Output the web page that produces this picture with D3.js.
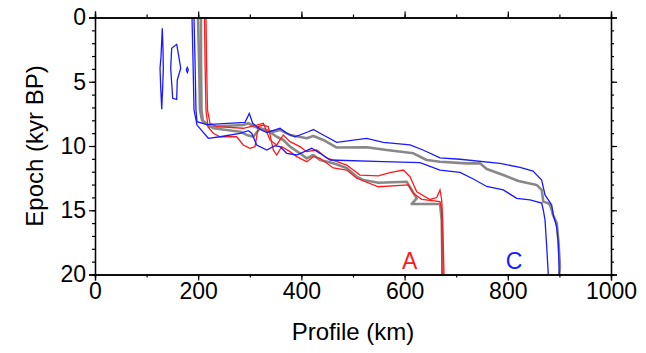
<!DOCTYPE html>
<html lang="en">
<head>
    <meta charset="UTF-8">
    <title>Epoch vs profile</title>
    <script src="https://d3js.org/d3.v7.min.js"></script>
    <style>
        body { margin: 0; background: #fff; }
        text { font-family: "Liberation Sans", Arial, sans-serif; }
    </style>
</head>
<body>
<div id="chart"></div>
<script>
    // data: [profile km, epoch kyr BP]
    const xTicks = [0, 200, 400, 600, 800, 1000]
    const yTicks = [0, 5, 10, 15, 20]

    const cHi = [[191.9,0],[193.8,3.31],[195.7,7.2],[197.7,8.11],[216.5,8.33],[290.7,8.16],[299,7.46],[305.6,8.23],
        [319.8,8.7],[332.8,8.96],[358.5,8.62],[371.5,9.01],[387.6,9.28],[413.4,8.89],[423.1,8.72],[436.1,9.01],
        [468.4,9.71],[526.5,9.4],[558.7,9.71],[610.5,9.92],[635.7,10.31],[668.6,10.93],[707.4,11.03],[784.9,11.35],
        [823.6,11.67],[848.9,11.95],[865.7,12.65],[872.1,13.81],[885.1,14.59],[888.2,15.37],[894.8,16.3],
        [897.9,17.55],[899.8,20]]
    const cLo = [[188,0],[189.9,3.31],[191.9,7.2],[197.7,8.37],[219.6,9.4],[242.3,9.28],[281,9.01],[297.1,8.81],
        [303.7,9.01],[313.4,9.92],[332.8,10.31],[348.9,9.98],[358.5,10.05],[371.5,10.57],[390.9,10.7],[420,10.18],
        [436.1,10.57],[455.5,11.09],[558.7,11.22],[629.9,11.3],[668.6,11.87],[707.4,12.06],[733.2,12.57],
        [759.1,13.15],[791.3,13.42],[817.3,14.07],[843,14.2],[865.7,14.44],[868.8,14.98],[872.1,15.76],
        [875.4,17.84],[878.5,20]]
    const cMid = [[199.6,0],[201.6,3.31],[203.5,7.2],[207.4,7.98],[222.9,8.5],[287.4,8.37],[297.1,8.23],[310.1,8.5],
        [326.2,8.75],[345.5,8.89],[358.5,8.75],[377.9,9.14],[410.3,9.4],[423.1,9.22],[442.5,9.53],[468.4,10.12],
        [526.5,10.1],[565.3,10.31],[616.9,10.57],[642.8,11.09],[668.6,11.22],[720.4,11.35],[746.1,11.35],
        [759.1,11.79],[791.3,12.26],[820.4,12.72],[856,13.03],[865.7,13.42],[868.8,14.33],[878.5,14.46],
        [881.8,14.59],[885.1,14.98],[887.6,15.37],[894.8,15.99],[897.9,17.32],[901.2,19.39],[899.8,20]]

    const aHi = [[215.1,0],[216.1,3.31],[218,7.2],[222.9,8.23],[235.8,8.5],[287.4,8.62],[313.4,8.37],[326.2,8.23],
        [339.2,9.53],[352.1,9.92],[364.9,9.14],[377.9,9.66],[397.3,10.05],[410.3,10.44],[429.6,10.31],[449,10.93],
        [487.8,11.48],[513.6,12.26],[549,12.33],[571.7,12.08],[597.5,11.87],[610.5,12.39],[623.5,13.56],
        [649.2,14.16],[662.2,14.01],[668.6,13.42],[671.9,14.2],[673.8,15.76],[676.4,20]]
    const aLo = [[212.2,0],[213.2,3.31],[215.1,7.2],[219,8.52],[229.3,9.01],[242.3,9.28],[274.6,9.28],[287.4,9.92],
        [300.4,10.18],[310.1,10.05],[316.5,8.5],[326.2,8.37],[335.9,8.5],[345.5,10.31],[352.1,10.7],[361.8,10.05],
        [377.9,10.44],[390.9,10.83],[410.3,11.22],[423.1,10.83],[436.1,10.96],[461.8,11.71],[487.8,11.87],
        [507.2,12.51],[549,13.17],[607.2,13.03],[616.9,13.68],[633.2,14.15],[668.6,14.33],[671.9,14.98],[672.5,20]]
    const aMid = [[205.4,0],[205.4,3.31],[206.4,7.2],[209.3,8.11],[229.3,8.62],[281,8.89],[294,9.14],[306.8,9.28],
        [319.8,8.62],[332.8,8.75],[352.1,9.28],[364.9,9.53],[377.9,10.05],[397.3,10.57],[410.3,10.96],[423.1,10.7],
        [436.1,11.09],[461.8,11.35],[487.8,11.71],[507.2,12.39],[520,12.65],[549,12.86],[604.1,12.78],
        [623.5,14.07],[613.8,14.51],[668.6,14.51],[671.9,15.76],[673.5,20]]

    // small closed contours west of the main front
    const blobs = [
        [[130.4,0.84],[131.8,2.53],[132.4,3.95],[131.2,5.39],[129.3,7.14],[127.3,5.39],[126,3.95],[127.9,3.05]],
        [[158.3,2.09],[160.3,2.53],[166.1,3.95],[159.5,4.86],[158.3,6.37],[150.6,6.29],[146.7,3.95],[148.6,2.4]],
        [[178.9,3.89],[180.8,4.09],[178.9,4.28],[176.9,4.09]]
    ]

    const labels = [{ t: "A", x: 610, color: "#ff1a1a" }, { t: "C", x: 812, color: "#1a1aff" }]

    const MARGIN = { LEFT: 95, RIGHT: 35, TOP: 17.5, BOTTOM: 78.5 }
    const W = 646, H = 353
    const WIDTH = W - MARGIN.LEFT - MARGIN.RIGHT
    const HEIGHT = H - MARGIN.TOP - MARGIN.BOTTOM

    const svg = d3.select("#chart").append("svg")
        .attr("width", W).attr("height", H)
    const g = svg.append("g")
        .attr("transform", `translate(${MARGIN.LEFT}, ${MARGIN.TOP})`)

    const x = d3.scaleLinear().domain([0, 1000]).range([0, WIDTH])
    const y = d3.scaleLinear().domain([0, 20]).range([0, HEIGHT])

    g.append("clipPath").attr("id", "clip")
        .append("rect").attr("width", WIDTH).attr("height", HEIGHT)

    const line = d3.line().x(d => x(d[0])).y(d => y(d[1]))
    const closed = d3.line().x(d => x(d[0])).y(d => y(d[1])).curve(d3.curveLinearClosed)

    const plot = g.append("g").attr("clip-path", "url(#clip)")

    const RED = "#ff1a1a", BLUE = "#1a1aff", GRAY = "#888888"

    plot.selectAll("path.mid").data([cMid, aMid]).enter().append("path")
        .attr("class", "mid")
        .attr("d", line)
        .attr("fill", "none").attr("stroke", GRAY).attr("stroke-width", 2.6)
        .attr("stroke-linejoin", "round")

    plot.selectAll("path.red").data([aHi, aLo]).enter().append("path")
        .attr("class", "red")
        .attr("d", line)
        .attr("fill", "none").attr("stroke", RED).attr("stroke-width", 1.3)

    plot.selectAll("path.blue").data([cHi, cLo]).enter().append("path")
        .attr("class", "blue")
        .attr("d", line)
        .attr("fill", "none").attr("stroke", BLUE).attr("stroke-width", 1.3)

    plot.selectAll("path.blob").data(blobs).enter().append("path")
        .attr("class", "blob")
        .attr("d", closed)
        .attr("fill", "none").attr("stroke", BLUE).attr("stroke-width", 1.3)

    // axes: labelled bottom/left, plain ticks on top/right
    const minorX = d3.range(0, 1001, 100)
    const minorY = d3.range(0, 21, 1)

    function styleAxis(sel) {
        sel.select(".domain").attr("stroke", "#000").attr("stroke-width", 1.3)
        sel.selectAll(".tick line").attr("stroke", "#000").attr("stroke-width", 1.2)
        sel.selectAll(".tick text").attr("font-size", "23px").attr("fill", "#000")
            .attr("font-family", "'Liberation Sans', Arial, sans-serif")
    }

    const axes = [
        { f: d3.axisBottom, s: x, t: `translate(0, ${HEIGHT})`, lab: true },
        { f: d3.axisTop, s: x, t: "translate(0, 0)", lab: false },
        { f: d3.axisLeft, s: y, t: "translate(0, 0)", lab: true },
        { f: d3.axisRight, s: y, t: `translate(${WIDTH}, 0)`, lab: false }
    ]
    axes.forEach(a => {
        const isX = a.s === x
        // minor ticks
        g.append("g").attr("transform", a.t)
            .call(a.f(a.s).tickValues(isX ? minorX : minorY).tickSize(3).tickFormat(""))
            .call(styleAxis)
        // major ticks
        const ax = a.f(a.s).tickValues(isX ? xTicks : yTicks).tickSize(6).tickPadding(isX ? 2 : 3)
            .tickFormat(a.lab ? d3.format("d") : "")
        g.append("g").attr("transform", a.t).call(ax).call(styleAxis)
    })

    g.append("text")
        .attr("x", WIDTH / 2).attr("y", HEIGHT + 65)
        .attr("font-size", "24px").attr("text-anchor", "middle")
        .text("Profile (km)")

    g.append("text")
        .attr("transform", "rotate(-90)")
        .attr("x", -HEIGHT / 2).attr("y", -52)
        .attr("font-size", "24px").attr("text-anchor", "middle")
        .text("Epoch (kyr BP)")

    g.selectAll("text.lbl").data(labels).enter().append("text")
        .attr("class", "lbl")
        .attr("x", d => x(d.x)).attr("y", y(19.6))
        .attr("font-size", "23px").attr("text-anchor", "middle")
        .attr("fill", d => d.color)
        .text(d => d.t)
</script>
</body>
</html>
